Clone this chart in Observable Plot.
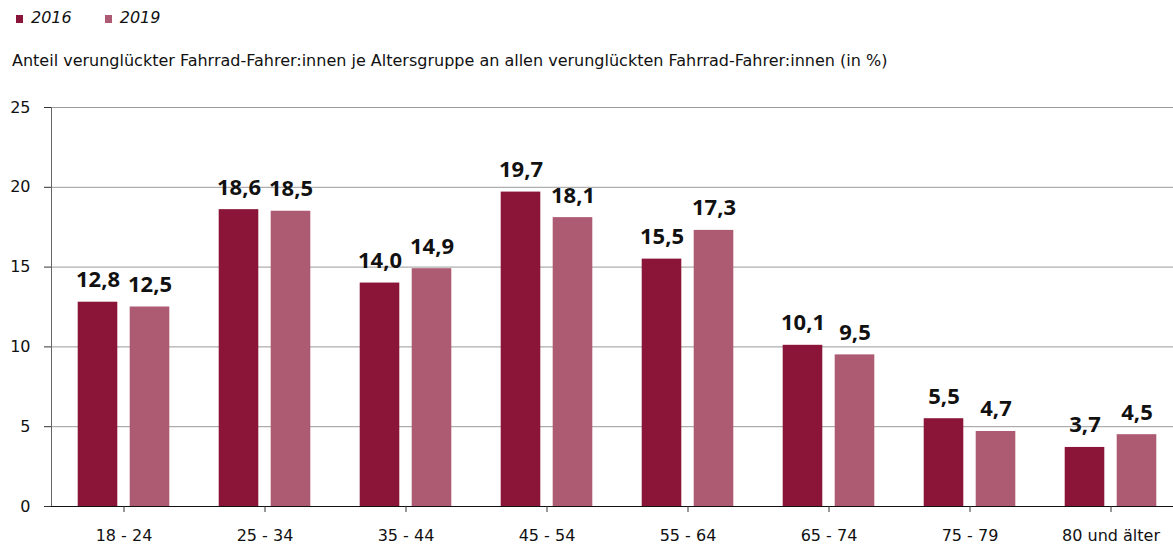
<!DOCTYPE html>
<html>
<head>
<meta charset="utf-8">
<script src="https://cdn.jsdelivr.net/npm/d3@7"></script>
<script src="https://cdn.jsdelivr.net/npm/@observablehq/plot@0.6"></script>
<style>
  body { margin: 0; background: #fff; font-family: "DejaVu Sans", sans-serif; }
  #header { position: relative; height: 90px; width: 1173px; }
  .legend { position: absolute; top: 8px; left: 16px; display: flex; gap: 0; font-style: italic; font-size: 16px; color: #111; }
  .legend span.item { display: inline-flex; align-items: center; margin-right: 33px; }
  .legend span.sw { display: inline-block; width: 7px; height: 8px; margin-right: 8px; margin-top: 2px; }
  .subtitle { position: absolute; top: 51px; left: 12px; font-size: 16px; color: #111; white-space: nowrap; }
</style>
</head>
<body>
<div id="header">
  <div class="legend" id="legend"></div>
  <div class="subtitle" id="subtitle"></div>
</div>
<div id="chart"></div>
<script>
const categories = ["18 - 24", "25 - 34", "35 - 44", "45 - 54", "55 - 64", "65 - 74", "75 - 79", "80 und älter"];
const values2016 = [12.8, 18.6, 14.0, 19.7, 15.5, 10.1, 5.5, 3.7];
const values2019 = [12.5, 18.5, 14.9, 18.1, 17.3, 9.5, 4.7, 4.5];
const seriesNames = ["2016", "2019"];
const seriesColors = ["#8a1538", "#ad5b72"];
const yTicks = [0, 5, 10, 15, 20, 25];
const subtitleText = "Anteil verunglückter Fahrrad-Fahrer:innen je Altersgruppe an allen verunglückten Fahrrad-Fahrer:innen (in %)";

document.getElementById("subtitle").textContent = subtitleText;
const legend = document.getElementById("legend");
seriesNames.forEach((n, i) => {
  const it = document.createElement("span");
  it.className = "item";
  const sw = document.createElement("span");
  sw.className = "sw";
  sw.style.background = seriesColors[i];
  it.appendChild(sw);
  it.appendChild(document.createTextNode(n));
  legend.appendChild(it);
});

const data = categories.map((c, i) => ({group: c, v2016: values2016[i], v2019: values2019[i]}));
const fmt = v => d3.format(".1f")(v).replace(".", ",");

const step = 141.4;
const left = 51.3;
const right = left + step * categories.length;
const barW = 40, offset = 26;
const inOuter = step / 2 - offset - barW / 2;
const inInner = step / 2 + offset - barW / 2;

const chart = Plot.plot({
  width: 1173,
  height: 457,
  marginLeft: 51,
  marginRight: 0,
  marginTop: 17,
  marginBottom: 41,
  style: {fontFamily: "DejaVu Sans, sans-serif", fontSize: "16px", color: "#111", background: "#fff"},
  x: {domain: categories, range: [left, right], padding: 0, label: null},
  y: {domain: [0, 25], label: null},
  marks: [
    Plot.gridY(yTicks, {stroke: "#9a9a9a", strokeOpacity: 1, strokeWidth: 1}),
    Plot.barY(data, {x: "group", y: "v2016", fill: seriesColors[0], insetLeft: inOuter, insetRight: inInner}),
    Plot.barY(data, {x: "group", y: "v2019", fill: seriesColors[1], insetLeft: inInner, insetRight: inOuter}),
    Plot.text(data, {x: "group", y: "v2016", text: d => fmt(d.v2016), dx: -offset, dy: -15, lineAnchor: "bottom", fontFamily: "Noto Sans, Open Sans, sans-serif", fontWeight: "bold", fontSize: 22, fill: "#111"}),
    Plot.text(data, {x: "group", y: "v2019", text: d => fmt(d.v2019), dx: offset, dy: -15, lineAnchor: "bottom", fontFamily: "Noto Sans, Open Sans, sans-serif", fontWeight: "bold", fontSize: 22, fill: "#111"}),
    Plot.frame({anchor: "left", stroke: "#666"}),
    Plot.ruleY([0], {stroke: "#111", strokeWidth: 1.2}),
    Plot.axisY({ticks: yTicks, tickSize: 7, tickPadding: 14, stroke: "#333", fontSize: 16, tickFormat: d => String(d)}),
    Plot.axisX({tickSize: 6, tickPadding: 17, stroke: "#333", fontSize: 16})
  ]
});
document.getElementById("chart").appendChild(chart);
</script>
</body>
</html>
